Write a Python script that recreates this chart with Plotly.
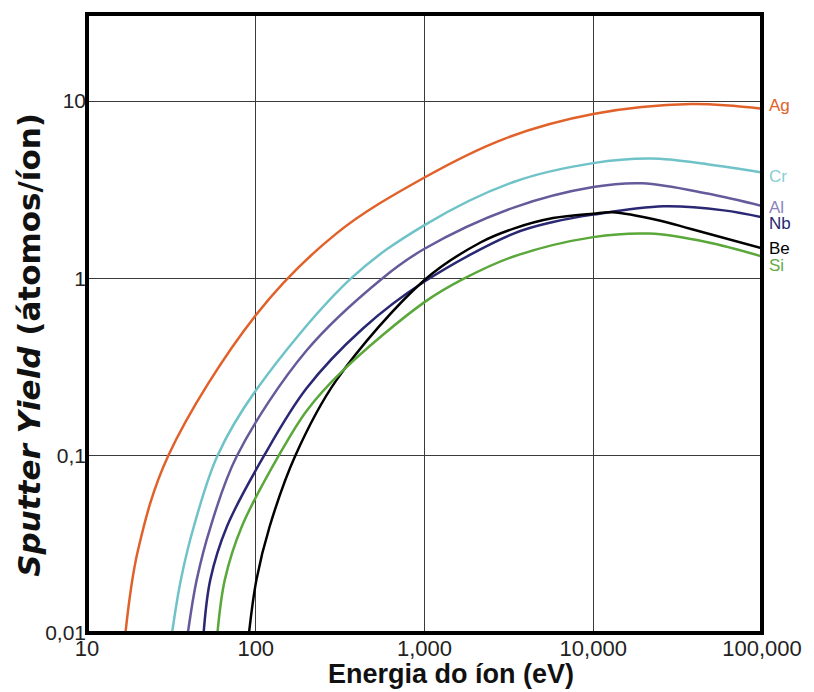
import math
import plotly.graph_objects as go

# ---- data (ion energy in eV, sputter yield in atoms/ion) ----
ag_energy = [16.9, 20, 30.3, 100, 300, 1000, 3000, 10000, 38000, 100000]
ag_yield = [0.01, 0.029, 0.1, 0.62, 1.79, 3.71, 6.15, 8.45, 9.62, 9.05]

cr_energy = [31.9, 36.0, 43.0, 59.3, 100, 367, 1000, 3373, 10000, 22000, 47500, 100000]
cr_yield = [0.01, 0.02, 0.04, 0.1, 0.233, 1.0, 2.0, 3.5, 4.47, 4.74, 4.41, 3.96]

al_energy = [39.6, 44.7, 54.1, 77.4, 200, 562, 1000, 3373, 10000, 19500, 47500, 100000]
al_yield = [0.01, 0.02, 0.04, 0.1, 0.392, 1.0, 1.47, 2.51, 3.28, 3.44, 3.01, 2.56]

nb_energy = [49.1, 53.8, 67.6, 112, 200, 430, 1000, 3373, 5781, 10000, 26000, 59400, 100000]
nb_yield = [0.01, 0.02, 0.04, 0.1, 0.24, 0.52, 0.96, 1.79, 2.08, 2.29, 2.55, 2.42, 2.21]

be_energy = [91.2, 101, 121, 171.5, 300, 1000, 2158, 3373, 5781, 10000, 13000, 24300, 38000, 100000]
be_yield = [0.01, 0.02, 0.04, 0.1, 0.266, 0.98, 1.60, 1.91, 2.19, 2.32, 2.36, 2.13, 1.90, 1.48]

si_energy = [59.3, 65.6, 82.8, 136.8, 200, 328, 1000, 1722, 3373, 10000, 21500, 47500, 100000]
si_yield = [0.01, 0.02, 0.04, 0.1, 0.179, 0.302, 0.735, 1.0, 1.33, 1.71, 1.79, 1.60, 1.33]

series_names = ["Ag", "Cr", "Al", "Nb", "Be", "Si"]
line_colors = ["#E1612A", "#6FC3C8", "#675A9B", "#2A2773", "#000000", "#5AA73A"]
label_colors = ["#E1612A", "#86CDD2", "#8E83BC", "#2A2773", "#000000", "#62AC42"]
label_yvals = [9.4, 3.77, 2.52, 2.05, 1.47, 1.18]

x_tickvals = [10, 100, 1000, 10000, 100000]
x_ticktext = ["10", "100", "1,000", "10,000", "100,000"]
y_tickvals = [0.01, 0.1, 1, 10]
y_ticktext = ["0,01", "0,1", "1", "10"]

energies = [ag_energy, cr_energy, al_energy, nb_energy, be_energy, si_energy]
yields = [ag_yield, cr_yield, al_yield, nb_yield, be_yield, si_yield]

fig = go.Figure()
for name, xs, ys, col in zip(series_names, energies, yields, line_colors):
    fig.add_trace(go.Scatter(x=xs, y=ys, mode="lines", name=name,
                             line=dict(color=col, width=2.5, shape="spline", smoothing=1.0),
                             hoverinfo="skip", showlegend=False))

annotations = []
for name, yv, col in zip(series_names, label_yvals, label_colors):
    annotations.append(dict(x=1, xref="paper", y=math.log10(yv), yref="y",
                            text=name, showarrow=False, xanchor="left", yanchor="middle",
                            xshift=5,
                            font=dict(family="Liberation Sans, Arial", size=17, color=col)))

annotations.append(dict(x=0.539, y=-0.066, xref="paper", yref="paper",
                        text="<b>Energia do íon (eV)</b>", showarrow=False,
                        xanchor="center", yanchor="middle",
                        font=dict(family="Liberation Sans, Arial", size=27, color="#111111")))
annotations.append(dict(x=-0.085, y=0.465, xref="paper", yref="paper",
                        text="<b><i>Sputter Yield</i> (átomos/íon)</b>", showarrow=False,
                        textangle=-90, xanchor="center", yanchor="middle",
                        font=dict(family="DejaVu Sans", size=31, color="#111111")))

fig.update_layout(
    width=814, height=692,
    margin=dict(l=87, r=42, t=14, b=59),
    paper_bgcolor="white", plot_bgcolor="white",
    annotations=annotations,
    shapes=[dict(type="rect", xref="paper", yref="paper", x0=0, y0=0, x1=1, y1=1,
                 line=dict(color="#000000", width=4), layer="above")],
)
fig.update_xaxes(type="log", range=[1, 5], tickvals=x_tickvals, ticktext=x_ticktext,
                 showgrid=True, gridcolor="#3a3a3a", gridwidth=1, zeroline=False,
                 showline=False, ticks="",
                 tickfont=dict(family="Liberation Sans, Arial", size=22, color="#222222"))
fig.update_yaxes(type="log", range=[-2, 1.4915], tickvals=y_tickvals, ticktext=y_ticktext,
                 showgrid=True, gridcolor="#3a3a3a", gridwidth=1, zeroline=False,
                 showline=False, ticks="",
                 tickfont=dict(family="Liberation Sans, Arial", size=21, color="#222222"))

fig.write_html("out.html")
